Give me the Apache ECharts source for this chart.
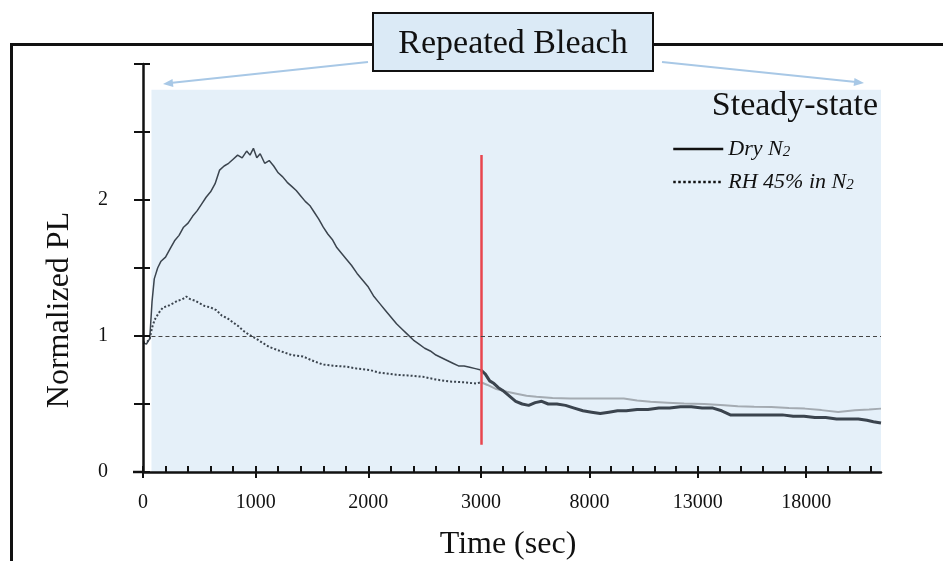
<!DOCTYPE html>
<html>
<head>
<meta charset="utf-8">
<title>Normalized PL vs time</title>
<script src="https://cdn.jsdelivr.net/npm/echarts@6/dist/echarts.min.js"></script>
<style>
  html, body { margin: 0; padding: 0; background: #fff; }
  #chart { width: 943px; height: 561px; }
</style>
</head>
<body>
<div id="chart"></div>
<script>
// [time (s), normalized PL]
const dryN2 = [
  [0, 0.95], [30, 0.94], [60, 0.98], [80, 1.25], [100, 1.42], [130, 1.50], [160, 1.55],
  [200, 1.58], [240, 1.64], [280, 1.70], [320, 1.74], [360, 1.80], [400, 1.83], [440, 1.88],
  [480, 1.92], [520, 1.97], [560, 2.02], [600, 2.06], [640, 2.12], [680, 2.22], [720, 2.25],
  [760, 2.27], [800, 2.30], [840, 2.33], [880, 2.31], [920, 2.36], [950, 2.33], [980, 2.38],
  [1010, 2.31], [1040, 2.34], [1080, 2.27], [1120, 2.29], [1160, 2.25], [1200, 2.20],
  [1240, 2.17], [1280, 2.13], [1320, 2.10], [1360, 2.07], [1400, 2.03], [1440, 1.99],
  [1480, 1.96], [1520, 1.91], [1560, 1.86], [1600, 1.80], [1640, 1.75], [1680, 1.71],
  [1720, 1.65], [1760, 1.61], [1800, 1.57], [1850, 1.52], [1900, 1.46], [1950, 1.41],
  [2000, 1.36], [2050, 1.29], [2100, 1.24], [2150, 1.19], [2200, 1.14], [2250, 1.09],
  [2300, 1.05], [2350, 1.01], [2400, 0.97], [2450, 0.94], [2500, 0.91], [2550, 0.89],
  [2600, 0.86], [2650, 0.84], [2700, 0.82], [2750, 0.80], [2800, 0.78], [2850, 0.78],
  [2900, 0.77], [2950, 0.76], [3000, 0.75],
  [3200, 0.72], [3400, 0.67], [3600, 0.65], [3800, 0.62], [4000, 0.60], [4300, 0.56],
  [4600, 0.52], [4900, 0.50], [5200, 0.49], [5500, 0.51], [5800, 0.52], [6100, 0.50],
  [6500, 0.50], [6900, 0.49], [7300, 0.47], [7700, 0.45], [8100, 0.44], [8500, 0.43],
  [8900, 0.44], [9300, 0.45], [9700, 0.45], [10200, 0.46], [10700, 0.46], [11200, 0.47],
  [11700, 0.47], [12200, 0.48], [12700, 0.48], [13200, 0.47], [13700, 0.47], [14100, 0.45],
  [14500, 0.42], [14900, 0.42], [15400, 0.42], [15900, 0.42], [16400, 0.42], [16900, 0.42],
  [17400, 0.41], [17900, 0.41], [18400, 0.40], [18900, 0.40], [19400, 0.39], [19900, 0.39],
  [20400, 0.39], [20800, 0.38], [21100, 0.37], [21450, 0.36]
];
const rh45 = [
  [0, 0.95], [40, 0.96], [60, 0.98], [80, 1.06], [104, 1.12], [140, 1.17], [177, 1.21],
  [220, 1.22], [266, 1.24], [310, 1.26], [350, 1.27], [385, 1.29], [420, 1.27], [460, 1.26],
  [503, 1.24], [550, 1.22], [600, 1.21], [651, 1.19], [700, 1.15], [750, 1.13], [799, 1.10],
  [850, 1.07], [888, 1.04], [940, 1.01], [1006, 0.98], [1060, 0.95], [1120, 0.92],
  [1183, 0.90], [1250, 0.88], [1320, 0.86], [1420, 0.85], [1500, 0.82], [1597, 0.79],
  [1700, 0.78], [1805, 0.775], [1900, 0.76], [2012, 0.75], [2100, 0.73], [2248, 0.715],
  [2350, 0.71], [2485, 0.70], [2600, 0.68], [2721, 0.665], [2850, 0.66], [2958, 0.65],
  [3000, 0.66],
  [3300, 0.64], [3705, 0.61], [4200, 0.59], [4636, 0.576], [5100, 0.56], [5557, 0.553],
  [6300, 0.545], [7110, 0.54], [7900, 0.54], [8654, 0.54], [9585, 0.54], [10200, 0.525],
  [10820, 0.516], [11600, 0.51], [12368, 0.503], [13300, 0.50], [14221, 0.49], [14843, 0.483],
  [15600, 0.48], [16387, 0.478], [17200, 0.47], [17935, 0.466], [18700, 0.455], [19475, 0.441],
  [20249, 0.454], [20900, 0.46], [21450, 0.466]
];

const breakTime = 3000;   // x scale changes here
const endTime = 21450;
const xLabelsEarly = [0, 1000, 2000, 3000];
const xMajorLate = [3000, 8000, 13000, 18000];
const xLabelsLate = [8000, 13000, 18000];
const yLabels = [0, 1, 2];
const refLevel = 1;
const bleachMark = [0.2, 2.33];
const shadeFrom = 75;
const shadeTop = 2.81;

const serif = 'Liberation Serif';
const ink = '#111';
const curveInk = '#3b444e';
const shade = '#e5f0f9';
const arrowBlue = '#a8c8e6';

function part(points, lo, hi) {
  return points.filter(p => p[0] >= lo && p[0] <= hi);
}
function steps(from, to, step) {
  const out = [];
  for (let v = from; v <= to; v += step) out.push(v);
  return out;
}

const chart = echarts.init(document.getElementById('chart'));

const tickStyle = { color: ink, width: 2 };
const labelStyle = { fontFamily: serif, fontSize: 20, color: ink, formatter: v => String(v) };

const option = {
  animation: false,
  grid: [
    { left: 143, top: 64, width: 338, height: 408 },
    { left: 481, top: 64, width: 400, height: 408 }
  ],
  xAxis: [
    {
      gridIndex: 0, type: 'value', position: 'bottom', z: 5, min: 0, max: breakTime, interval: 1000,
      axisLine: { show: true, lineStyle: { color: ink, width: 2.5 } },
      axisTick: { show: true, length: 6, customValues: xLabelsEarly, lineStyle: tickStyle },
      axisLabel: Object.assign({ customValues: xLabelsEarly, margin: 21 }, labelStyle),
      splitLine: { show: false }
    },
    {
      gridIndex: 0, type: 'value', position: 'bottom', z: 5, min: 0, max: breakTime,
      axisLine: { show: false }, axisLabel: { show: false }, splitLine: { show: false },
      axisTick: { show: true, inside: true, length: 6, customValues: steps(0, breakTime, 200), lineStyle: tickStyle }
    },
    {
      gridIndex: 1, type: 'value', position: 'bottom', z: 5, min: breakTime, max: endTime,
      axisLine: { show: true, lineStyle: { color: ink, width: 2.5 } },
      axisTick: { show: true, length: 6, customValues: xMajorLate, lineStyle: tickStyle },
      axisLabel: Object.assign({ customValues: xLabelsLate, margin: 21 }, labelStyle),
      splitLine: { show: false }
    },
    {
      gridIndex: 1, type: 'value', position: 'bottom', z: 5, min: breakTime, max: endTime,
      axisLine: { show: false }, axisLabel: { show: false }, splitLine: { show: false },
      axisTick: { show: true, inside: true, length: 6, customValues: steps(4000, 21000, 1000), lineStyle: tickStyle }
    }
  ],
  yAxis: [
    {
      gridIndex: 0, type: 'value', position: 'left', z: 5, min: 0, max: 3, interval: 0.5,
      axisLine: { show: true, lineStyle: { color: ink, width: 2.5 } },
      axisTick: { show: true, length: 9, lineStyle: tickStyle },
      axisLabel: Object.assign({ customValues: yLabels, margin: 35 }, labelStyle),
      splitLine: { show: false }
    },
    {
      gridIndex: 0, type: 'value', position: 'left', z: 5, min: 0, max: 3, interval: 0.5,
      axisLine: { show: false }, axisLabel: { show: false }, splitLine: { show: false },
      axisTick: { show: true, inside: true, length: 7, lineStyle: tickStyle }
    },
    { gridIndex: 1, type: 'value', min: 0, max: 3, show: false }
  ],
  legend: {
    orient: 'vertical', left: 667, top: 133,
    itemWidth: 50, itemHeight: 14, itemGap: 11,
    selectedMode: false,
    data: [
      { name: 'Dry N2', itemStyle: { opacity: 0 }, lineStyle: { color: ink, width: 2.5, type: 'solid' } },
      { name: 'RH 45% in N2', itemStyle: { opacity: 0 }, lineStyle: { color: ink, width: 2.5, type: 'dotted' } }
    ],
    formatter: name => name === 'Dry N2' ? '{t|Dry N}{s|2}' : '{t|RH 45% in N}{s|2}',
    textStyle: {
      rich: {
        t: { fontFamily: serif, fontStyle: 'italic', fontSize: 22, color: ink, lineHeight: 22 },
        s: { fontFamily: serif, fontStyle: 'italic', fontSize: 15, color: ink, lineHeight: 4, verticalAlign: 'bottom' }
      }
    }
  },
  series: [
    {
      name: 'Dry N2', type: 'line', xAxisIndex: 0, yAxisIndex: 0, symbol: 'none', clip: false,
      data: part(dryN2, 0, breakTime),
      lineStyle: { color: curveInk, width: 1.5 }, itemStyle: { color: curveInk },
      markArea: {
        silent: true, itemStyle: { color: shade },
        data: [[{ coord: [shadeFrom, 0] }, { coord: [breakTime, shadeTop] }]]
      },
      markLine: {
        silent: true, symbol: 'none', label: { show: false },
        data: [
          [{ coord: [shadeFrom, refLevel], lineStyle: { color: '#444', width: 1.2, type: [4, 3] } }, { coord: [breakTime, refLevel] }],
          [{ coord: [breakTime, bleachMark[0]], lineStyle: { color: '#e8464e', width: 2.5, type: 'solid' } }, { coord: [breakTime, bleachMark[1]] }]
        ]
      }
    },
    {
      name: 'RH 45% in N2', type: 'line', xAxisIndex: 0, yAxisIndex: 0, symbol: 'none',
      data: part(rh45, 0, breakTime),
      lineStyle: { color: curveInk, width: 2, type: 'dotted' }, itemStyle: { color: curveInk }
    },
    {
      name: 'RH 45% in N2', type: 'line', xAxisIndex: 2, yAxisIndex: 2, symbol: 'none',
      data: part(rh45, breakTime, endTime),
      lineStyle: { color: '#a4abb2', width: 2 },
      markArea: {
        silent: true, itemStyle: { color: shade },
        data: [[{ coord: [breakTime, 0] }, { coord: [endTime, shadeTop] }]]
      },
      markLine: {
        silent: true, symbol: 'none', label: { show: false },
        data: [[{ coord: [breakTime, refLevel], lineStyle: { color: '#444', width: 1.2, type: [4, 3] } }, { coord: [endTime, refLevel] }]]
      }
    },
    {
      name: 'Dry N2', type: 'line', xAxisIndex: 2, yAxisIndex: 2, symbol: 'none',
      data: part(dryN2, breakTime, endTime),
      lineStyle: { color: curveInk, width: 3 }
    }
  ],
  graphic: [
    { type: 'line', shape: { x1: 11.5, y1: 561, x2: 11.5, y2: 44.5 }, style: { stroke: ink, lineWidth: 3 } },
    { type: 'line', shape: { x1: 10, y1: 44.5, x2: 943, y2: 44.5 }, style: { stroke: ink, lineWidth: 3 } },
    { type: 'line', shape: { x1: 133, y1: 472, x2: 144, y2: 472 }, style: { stroke: ink, lineWidth: 2.5 } },
    // arrows from the label box
    { type: 'line', shape: { x1: 368, y1: 62, x2: 170, y2: 83 }, style: { stroke: arrowBlue, lineWidth: 2 } },
    { type: 'polygon', shape: { points: [[163, 84], [173.4, 86.9], [172.5, 78.9]] }, style: { fill: arrowBlue } },
    { type: 'line', shape: { x1: 662, y1: 62, x2: 856, y2: 82 }, style: { stroke: arrowBlue, lineWidth: 2 } },
    { type: 'polygon', shape: { points: [[864, 83], [853.6, 85.9], [854.5, 78]] }, style: { fill: arrowBlue } },
    { type: 'rect', shape: { x: 373, y: 13, width: 280, height: 58 }, style: { fill: '#dbeaf6', stroke: ink, lineWidth: 2 } },
    {
      type: 'text', x: 513, y: 44,
      style: { text: 'Repeated Bleach', fontFamily: serif, fontSize: 34, fill: ink, align: 'center', verticalAlign: 'middle' }
    },
    {
      type: 'text', x: 878, y: 106, z: 10,
      style: { text: 'Steady-state', fontFamily: serif, fontSize: 34, fill: ink, align: 'right', verticalAlign: 'middle' }
    },
    {
      type: 'text', x: 508, y: 545,
      style: { text: 'Time (sec)', fontFamily: serif, fontSize: 32, fill: ink, align: 'center', verticalAlign: 'middle' }
    },
    {
      type: 'text', x: 60, y: 310, rotation: Math.PI / 2,
      style: { text: 'Normalized PL', fontFamily: serif, fontSize: 32, fill: ink, align: 'center', verticalAlign: 'middle' }
    }
  ]
};

chart.setOption(option);
</script>
</body>
</html>
